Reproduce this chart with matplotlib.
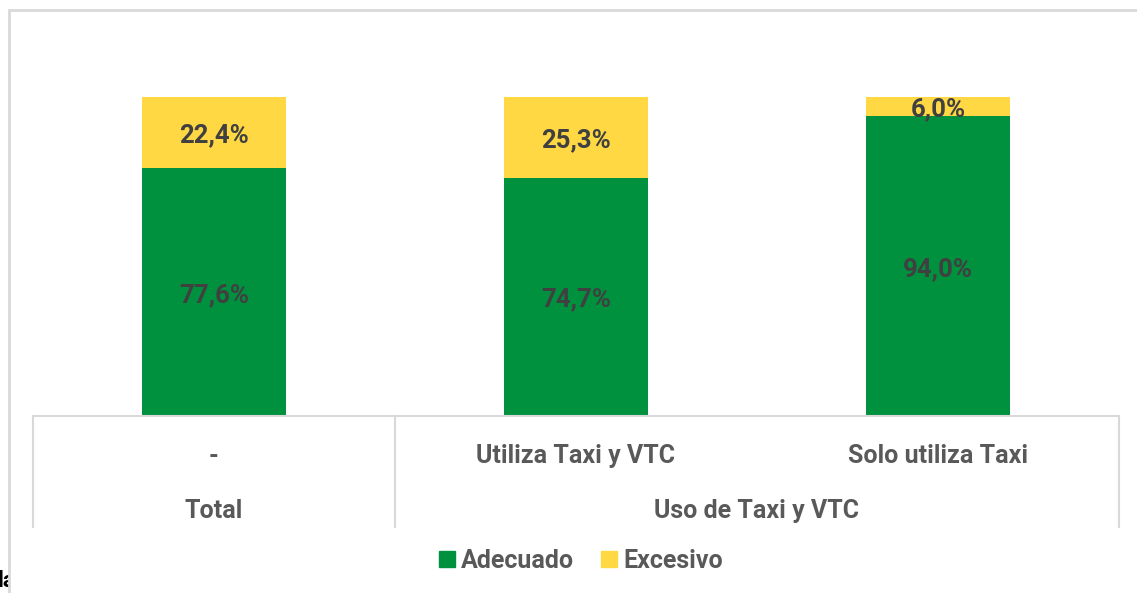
import matplotlib.pyplot as plt
from matplotlib.patches import Rectangle
from matplotlib.lines import Line2D

plt.rcParams['font.family'] = ['Roboto', 'DejaVu Sans']
plt.rcParams['font.weight'] = 'bold'

categorias = ["-", "Utiliza Taxi y VTC", "Solo utiliza Taxi"]
grupos = ["Total", "Uso de Taxi y VTC"]
adecuado = [77.6, 74.7, 94.0]
excesivo = [22.4, 25.3, 6.0]
series = ["Adecuado", "Excesivo"]

verde = "#00913F"
amarillo = "#FFD843"
gris_txt = "#595959"
gris_lin = "#D9D9D9"

W, H = 1137, 593
fig = plt.figure(figsize=(W / 100, H / 100), dpi=100)

# area de las barras (en pixeles de la imagen)
x0, x1, y_top, y_base = 33, 1119, 97, 416
ax = fig.add_axes([x0 / W, 1 - y_base / H, (x1 - x0) / W, (y_base - y_top) / H])

x = range(len(categorias))
ax.bar(x, adecuado, width=0.4, color=verde, label=series[0])
ax.bar(x, excesivo, width=0.4, bottom=adecuado, color=amarillo, label=series[1])

for i in x:
    ax.annotate(f"{adecuado[i]:.1f}%".replace(".", ","), (i, adecuado[i] / 2),
                xytext=(0, -2), textcoords="offset points",
                ha="center", va="center", fontsize=18.5, color="#404040")
    ax.annotate(f"{excesivo[i]:.1f}%".replace(".", ","), (i, adecuado[i] + excesivo[i] / 2),
                xytext=(0, -2), textcoords="offset points",
                ha="center", va="center", fontsize=18.5, color="#404040")

ax.set_xlim(-0.5, 2.5)
ax.set_ylim(0, 100)
ax.axis("off")

# tabla de categorias bajo el eje
tr = ax.get_xaxis_transform()
h_ax = y_base - y_top
fondo = -(527 - y_base) / h_ax
ax.plot([-0.5, 2.5], [0, 0], transform=tr, color=gris_lin, lw=1.5, clip_on=False)
for xv in [-0.5, 0.5, 2.5]:
    ax.plot([xv, xv], [0, fondo], transform=tr, color=gris_lin, lw=1.5, clip_on=False)

y_cat = -(456 - y_base) / h_ax
y_grp = -(511 - y_base) / h_ax
for i, c in enumerate(categorias):
    ax.text(i, y_cat, c, transform=tr, ha="center", va="center", fontsize=18, color=gris_txt)
ax.text(0, y_grp, grupos[0], transform=tr, ha="center", va="center", fontsize=18, color=gris_txt)
ax.text(1.5, y_grp, grupos[1], transform=tr, ha="center", va="center", fontsize=18, color=gris_txt)

handles = [Line2D([], [], marker="s", ls="", color=verde, markersize=11),
           Line2D([], [], marker="s", ls="", color=amarillo, markersize=11)]
leg = ax.legend(handles, series, loc="center", bbox_to_anchor=(0.505, -(561 - y_base) / h_ax),
                ncol=2, frameon=False, fontsize=18, handlelength=0.6, handletextpad=0.25,
                columnspacing=1.1)
for t in leg.get_texts():
    t.set_color(gris_txt)

# texto cortado de la izquierda
fig.text(-2 / W, 1 - 581 / H, "la", ha="left", va="center", fontsize=16,
         color="black", zorder=-2)

# borde del grafico
fig.add_artist(Rectangle((9 / W, -0.1), 1.2, 1.1 - 10 / H, transform=fig.transFigure,
                         edgecolor=gris_lin, lw=2, facecolor="white", zorder=-1))

fig.savefig("out.png", dpi=100)
